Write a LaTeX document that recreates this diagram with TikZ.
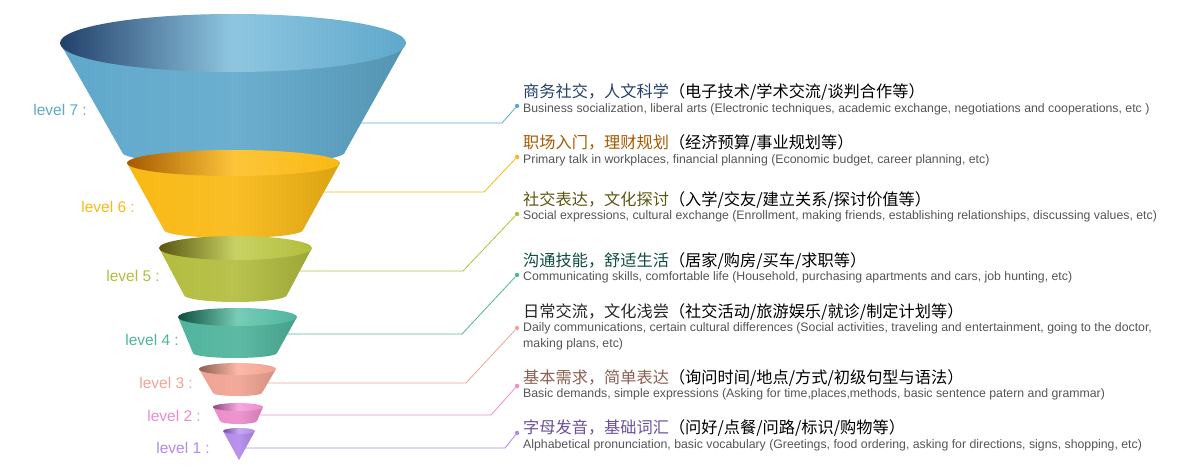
\documentclass[tikz,border=0pt]{standalone}
\usepackage{fontspec}
\setmainfont{Liberation Sans}
\newfontfamily\cjk{Noto Sans CJK SC}
\usetikzlibrary{positioning}

% level colours: base, dark, light
\definecolor{lvsev}{HTML}{5FA8CB}   \definecolor{lvsevD}{HTML}{22406A} \definecolor{lvsevL}{HTML}{8EC6E0}
\definecolor{lvsix}{HTML}{F9B914}   \definecolor{lvsixD}{HTML}{A65A00} \definecolor{lvsixL}{HTML}{FDC53A}
\definecolor{lvfive}{HTML}{B2BD3E}  \definecolor{lvfiveD}{HTML}{5A5610} \definecolor{lvfiveL}{HTML}{C8D264}
\definecolor{lvfour}{HTML}{4FB49C}  \definecolor{lvfourD}{HTML}{0E4E3E} \definecolor{lvfourL}{HTML}{76CDB6}
\definecolor{lvthree}{HTML}{F0A392} \definecolor{lvthreeD}{HTML}{8C6052} \definecolor{lvthreeL}{HTML}{FCB8A8}
\definecolor{lvtwo}{HTML}{EC8CCB}   \definecolor{lvtwoD}{HTML}{8C4A7A} \definecolor{lvtwoL}{HTML}{F8A8E0}
\definecolor{lvone}{HTML}{B38AEA}   \definecolor{lvoneD}{HTML}{6E4E9C} \definecolor{lvoneL}{HTML}{C8A8F8}
\definecolor{entext}{HTML}{555555}

\begin{document}
\begin{tikzpicture}[x=1pt,y=-1pt,
    lvlabel/.style = {anchor=east, inner sep=0pt, font=\fontsize{15.5}{18}\selectfont},
    title/.style = {anchor=west, font=\cjk\fontsize{16.2}{19}\selectfont, inner sep=0pt},
    entxt/.style = {anchor=west, align=left, text=entext, inner sep=0pt,
      font=\fontsize{12.3}{16}\selectfont},
    dot/.style = {circle, inner sep=0pt, minimum size=4.5pt},
    conn/.style = {line width=0.8pt}]
  \useasboundingbox (0,0) rectangle (1194,476);

  % Funnel segments
  \foreach \c/\xl/\xr/\yt/\rt/\bl/\br/\yb/\rb in {
      lvsev/60/406/43/29/122/345/152/13,
      lvsix/127/340/163/13/164/303/230/8,
      lvfive/159/312/248/12/184/287/295/7,
      lvfour/178/297/317/9/193/277/353/5,
      lvthree/199/276/369/6/213/262/393/3,
      lvtwo/213/263/407/4/220/257/421/3,
      lvone/223/255/431/3/238.9/239.1/460/0.1} {
    \pgfmathsetmacro\rxb{(\br-\bl)/2}
    \pgfmathsetmacro\rxt{(\xr-\xl)/2}
    \pgfmathsetmacro\cx{(\xr+\xl)/2}
    \shade[left color=\c, right color=\c!88!black, middle color=\c!92!white]
      (\xl,\yt) -- (\bl,\yb) arc[start angle=180, end angle=360,
        x radius=\rxb pt, y radius=\rb pt] -- (\xr,\yt) -- cycle;
    \shade[left color=\c D, right color=\c, middle color=\c L]
      (\cx,\yt) ellipse[x radius=\rxt pt, y radius=\rt pt];
  }

  % Level labels
  \node[lvlabel, text=lvsev]   (l7) at (87,110) {level 7 :};
  \node[lvlabel, text=lvsix]   (l6) at (135,207) {level 6 :};
  \node[lvlabel, text=lvfive]  (l5) at (160,276) {level 5 :};
  \node[lvlabel, text=lvfour]  (l4) at (179,340) {level 4 :};
  \node[lvlabel, text=lvthree] (l3) at (193,383) {level 3 :};
  \node[lvlabel, text=lvtwo]   (l2) at (201,416) {level 2 :};
  \node[lvlabel, text=lvone]   (l1) at (210,448) {level 1 :};

  % Connectors
  \foreach \n/\c/\xs/\ys/\xk/\yd in {
      7/lvsev/360/123/502/106, 6/lvsix/323/192/484/157,
      5/lvfive/300/271/463/214, 4/lvfour/287/334/462/275,
      3/lvthree/268/383/466/328, 2/lvtwo/260/415/491/386,
      1/lvone/245/448/505/433} {
    \coordinate (s\n) at (\xs,\ys);
    \coordinate (k\n) at (\xk,\ys);
    \node[dot, fill=\c] (d\n) at (517,\yd) {};
    \draw[conn, \c] (s\n) -- (k\n) -- (d\n);
  }

  % Descriptions
  \node[title] (t7) at (523,92) {\textcolor{lvsevD}{商务社交，人文科学}（电子技术/学术交流/谈判合作等）};
  \node[entxt] (e7) at (523,109) {Business socialization, liberal arts (Electronic techniques, academic exchange, negotiations and cooperations, etc )};
  \node[title] (t6) at (523,143) {\textcolor{lvsixD}{职场入门，理财规划}（经济预算/事业规划等）};
  \node[entxt] (e6) at (523,160) {Primary talk in workplaces, financial planning (Economic budget, career planning, etc)};
  \node[title] (t5) at (523,200) {\textcolor{lvfiveD}{社交表达，文化探讨}（入学/交友/建立关系/探讨价值等）};
  \node[entxt] (e5) at (523,216) {Social expressions, cultural exchange (Enrollment, making friends, establishing relationships, discussing values, etc)};
  \node[title] (t4) at (523,261) {\textcolor{lvfourD}{沟通技能，舒适生活}（居家/购房/买车/求职等）};
  \node[entxt] (e4) at (523,277) {Communicating skills, comfortable life (Household, purchasing apartments and cars, job hunting, etc)};
  \node[title] (t3) at (523,312) {\textcolor{black!85}{日常交流，文化浅尝}（社交活动/旅游娱乐/就诊/制定计划等）};
  \node[entxt] (e3) at (523,336) {Daily communications, certain cultural differences (Social activities, traveling and entertainment, going to the doctor,\\making plans, etc)};
  \node[title] (t2) at (523,378) {\textcolor{lvthreeD}{基本需求，简单表达}（询问时间/地点/方式/初级句型与语法）};
  \node[entxt] (e2) at (523,394) {Basic demands, simple expressions (Asking for time,places,methods, basic sentence patern and grammar)};
  \node[title] (t1) at (523,428) {\textcolor{lvoneD}{字母发音，基础词汇}（问好/点餐/问路/标识/购物等）};
  \node[entxt] (e1) at (523,445) {Alphabetical pronunciation, basic vocabulary (Greetings, food ordering, asking for directions, signs, shopping, etc)};
\end{tikzpicture}
\end{document}
